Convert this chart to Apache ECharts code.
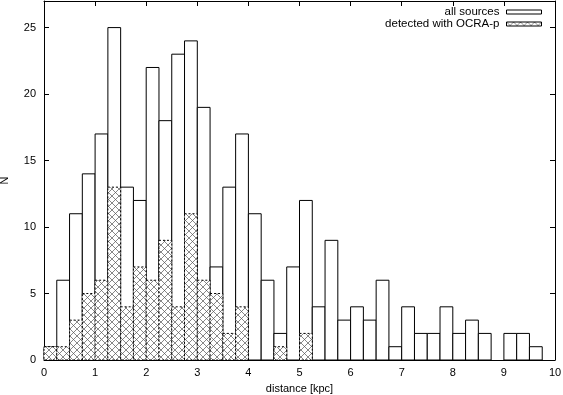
<!DOCTYPE html>
<html>
<head>
<meta charset="utf-8">
<script src="https://cdn.jsdelivr.net/npm/echarts@6/dist/echarts.min.js"></script>
<style>
  html, body { margin: 0; padding: 0; background: #fff; }
  #chart { width: 563px; height: 395px; }
</style>
</head>
<body>
<div id="chart"></div>
<script>
  // bin lower edges [kpc], bins are 0.25 kpc wide
  var binStart = [0, 0.25, 0.5, 0.75, 1, 1.25, 1.5, 1.75, 2, 2.25,
    2.5, 2.75, 3, 3.25, 3.5, 3.75, 4, 4.25, 4.5, 4.75,
    5, 5.25, 5.5, 5.75, 6, 6.25, 6.5, 6.75, 7, 7.25,
    7.5, 7.75, 8, 8.25, 8.5, 8.75, 9, 9.25, 9.5, 9.75];
  var binWidth = 0.25;
  // all sources
  var allSources = [1, 6, 11, 14, 17, 25, 13, 12, 22, 18,
    23, 24, 19, 7, 13, 17, 11, 6, 2, 7,
    12, 4, 9, 3, 4, 3, 6, 1, 4, 2,
    2, 4, 2, 3, 2, 0, 2, 2, 1, 0];
  // detected with OCRA-p
  var detected = [1, 1, 3, 5, 6, 13, 4, 7, 6, 9,
    4, 11, 6, 5, 2, 4, 0, 0, 1, 0,
    2, 0, 0, 0, 0, 0, 0, 0, 0, 0,
    0, 0, 0, 0, 0, 0, 0, 0, 0, 0];
  var xTicks = [0, 1, 2, 3, 4, 5, 6, 7, 8, 9, 10];
  var yTicks = [0, 5, 10, 15, 20, 25];

  // cross hatch pattern like gnuplot's pattern fill
  var pat = document.createElement('canvas');
  pat.width = 7; pat.height = 7;
  var pc = pat.getContext('2d');
  pc.fillStyle = '#fff';
  pc.fillRect(0, 0, 7, 7);
  pc.strokeStyle = '#555';
  pc.lineWidth = 0.7;
  pc.beginPath();
  pc.moveTo(0, 0); pc.lineTo(7, 7);
  pc.moveTo(7, 0); pc.lineTo(0, 7);
  pc.stroke();
  var hatch = { image: pat, repeat: 'repeat' };

  function toData(vals) {
    var out = [];
    for (var i = 0; i < vals.length; i++) {
      out.push([binStart[i], binStart[i] + binWidth, vals[i]]);
    }
    return out;
  }

  function makeRender(fill, dash) {
    return function (params, api) {
      var v = api.value(2);
      if (!v) return null;
      var p0 = api.coord([api.value(0), v]);
      var p1 = api.coord([api.value(1), 0]);
      return {
        type: 'rect',
        shape: { x: p0[0], y: p0[1], width: p1[0] - p0[0], height: p1[1] - p0[1] },
        style: { fill: fill, stroke: '#000', lineWidth: 1, lineDash: dash }
      };
    };
  }

  var font = 'Liberation Sans, Arial, sans-serif';
  var axisCommon = {
    type: 'value',
    axisLine: { show: true, onZero: false, lineStyle: { color: '#000', width: 1 } },
    axisTick: { show: true, inside: true, length: 5, lineStyle: { color: '#000' } },
    splitLine: { show: false }
  };

  var myChart = echarts.init(document.getElementById('chart'));
  var options = {
    animation: false,
    backgroundColor: '#fff',
    textStyle: { fontFamily: font },
    grid: { left: 44, right: 8, top: 1, bottom: 35, containLabel: false, outerBoundsMode: 'none' },
    legend: {
      orient: 'vertical',
      right: 21,
      top: 6,
      padding: 0,
      align: 'right',
      itemWidth: 35,
      itemHeight: 4,
      itemGap: 0,
      textStyle: { fontFamily: font, fontSize: 11.5, lineHeight: 11, color: '#000', padding: [0, 2, 0, 0] },
      data: [
        { name: 'all sources', icon: 'rect', itemStyle: { color: '#fff', borderColor: '#000', borderWidth: 1 } },
        { name: 'detected with OCRA-p', icon: 'rect', itemStyle: { color: hatch, borderColor: '#000', borderWidth: 1 } }
      ]
    },
    xAxis: [
      Object.assign({}, axisCommon, {
        min: 0, max: 10, interval: 1,
        name: 'distance [kpc]',
        nameLocation: 'middle',
        nameGap: 23,
        nameTextStyle: { fontFamily: font, fontSize: 11, color: '#000' },
        axisLabel: {
          fontFamily: font, fontSize: 11, color: '#000', margin: 7,
          formatter: function (v) { return xTicks.indexOf(v) >= 0 ? String(v) : ''; }
        }
      }),
      Object.assign({}, axisCommon, {
        position: 'top', min: 0, max: 10, interval: 1,
        axisLabel: { show: false }
      })
    ],
    yAxis: [
      Object.assign({}, axisCommon, {
        min: 0, max: 27, interval: 5,
        name: 'N',
        nameLocation: 'middle',
        nameGap: 34,
        nameRotate: 90,
        nameTextStyle: { fontFamily: font, fontSize: 11, color: '#000' },
        axisLabel: {
          fontFamily: font, fontSize: 11, color: '#000', margin: 8,
          showMaxLabel: false,
          formatter: function (v) { return yTicks.indexOf(v) >= 0 ? String(v) : ''; }
        }
      }),
      Object.assign({}, axisCommon, {
        position: 'right', min: 0, max: 27, interval: 5,
        axisLabel: { show: false }
      })
    ],
    series: [
      {
        name: 'all sources',
        type: 'custom',
        xAxisIndex: 0, yAxisIndex: 0,
        itemStyle: { color: '#fff', borderColor: '#000' },
        renderItem: makeRender('#fff', null),
        encode: { x: [0, 1], y: 2 },
        data: toData(allSources)
      },
      {
        name: 'detected with OCRA-p',
        type: 'custom',
        xAxisIndex: 0, yAxisIndex: 0,
        itemStyle: { color: hatch, borderColor: '#000' },
        renderItem: makeRender(hatch, [2, 2]),
        encode: { x: [0, 1], y: 2 },
        data: toData(detected)
      }
    ]
  };
  myChart.setOption(options);
</script>
</body>
</html>
